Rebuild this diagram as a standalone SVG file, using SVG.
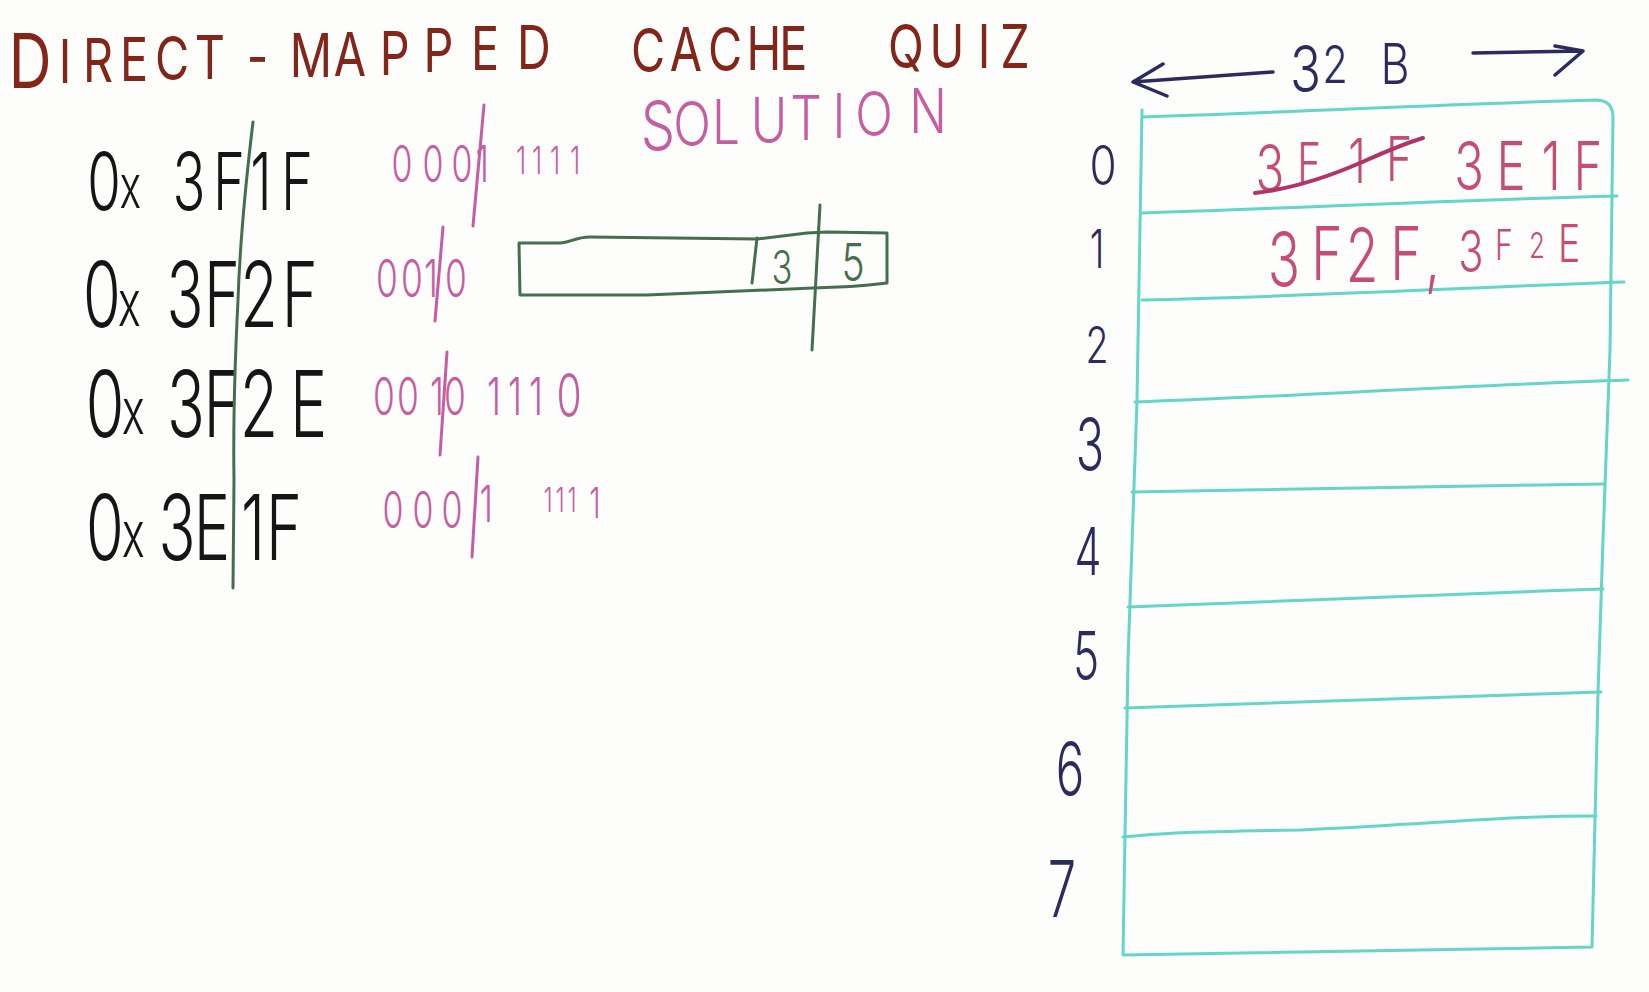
<svg xmlns="http://www.w3.org/2000/svg" width="1649" height="992" viewBox="0 0 1649 992">
<style>
.hw{font-family:Inter,"Open Sans","Liberation Sans",sans-serif;font-weight:300;text-anchor:middle;}
.title{fill:#832619;font-size:60px;font-weight:400;}
.pink{fill:#c65da3;}
.blk{fill:#151515;}
.navy{fill:#2d2b5e;}
.red{fill:#c64c74;}
.grn{fill:#446f4f;}
.ln{fill:none;stroke-linecap:round;stroke-linejoin:round;}
.gl{stroke:#446f4f;stroke-width:3;}
.pl{stroke:#c65da3;stroke-width:3;}
.nl{stroke:#2d2b5e;stroke-width:3.5;}
.cl{stroke:#63d6c6;stroke-width:3;}
</style>
<rect width="1649" height="992" fill="#fdfdfc"/>

<g id="title">
<text class="hw title" transform="scale(0.78,1)"><tspan x="38.5" y="88" font-size="76">D</tspan><tspan x="83.3" y="83">I</tspan><tspan x="125.6" y="82">R</tspan><tspan x="171.8" y="81">E</tspan><tspan x="220.5" y="80">C</tspan><tspan x="269.2" y="79">T</tspan><tspan x="330" y="78">-</tspan><tspan x="398.7" y="77">M</tspan><tspan x="448.7" y="76">A</tspan><tspan x="506" y="75">P</tspan><tspan x="562" y="72">P</tspan><tspan x="622" y="70">E</tspan><tspan x="693" y="69">D</tspan> <tspan x="830.8" y="72">C</tspan><tspan x="879.5" y="71">A</tspan><tspan x="929.5" y="71">C</tspan><tspan x="979.5" y="70">H</tspan><tspan x="1025.6" y="70">E</tspan> <tspan x="1161.5" y="68">Q</tspan><tspan x="1214.1" y="68">U</tspan><tspan x="1261.5" y="68">I</tspan><tspan x="1301.3" y="68">Z</tspan></text>
</g>

<g id="solution">
<text class="hw pink" font-size="62" transform="scale(0.8,1)"><tspan x="822.5" y="150" font-size="68">S</tspan><tspan x="865" y="146">O</tspan><tspan x="907.5" y="144">L</tspan><tspan x="961.3" y="142">U</tspan><tspan x="1007.5" y="140">T</tspan><tspan x="1048.8" y="138">I</tspan><tspan x="1092.5" y="136">O</tspan><tspan x="1160" y="133">N</tspan></text>
</g>

<g id="addresses">
<g id="addr1">
<text class="hw blk" font-size="80" transform="scale(0.68,1)"><tspan x="152.9" y="210">0</tspan><tspan x="202.9" y="208" font-size="60">x</tspan> <tspan x="277.9" y="210">3</tspan><tspan x="336.8" y="210">F</tspan><tspan x="383.8" y="210">1</tspan><tspan x="436.8" y="210">F</tspan></text>
</g>
<g id="addr2">
<text class="hw blk" font-size="90" transform="scale(0.68,1)"><tspan x="150" y="327">0</tspan><tspan x="202.9" y="326" font-size="64">x</tspan> <tspan x="272.1" y="327">3</tspan><tspan x="326.5" y="327">F</tspan><tspan x="380.9" y="327">2</tspan><tspan x="441" y="327">F</tspan></text>
</g>
<g id="addr3">
<text class="hw blk" font-size="92" transform="scale(0.68,1)"><tspan x="154.4" y="437">0</tspan><tspan x="208.8" y="434" font-size="64">x</tspan> <tspan x="273.5" y="437">3</tspan><tspan x="326.5" y="437">F</tspan><tspan x="380.9" y="437">2</tspan><tspan x="454" y="437">E</tspan></text>
</g>
<g id="addr4">
<text class="hw blk" font-size="90" transform="scale(0.68,1)"><tspan x="154.4" y="560">0</tspan><tspan x="208.8" y="557" font-size="64">x</tspan> <tspan x="260.3" y="560">3</tspan><tspan x="311.8" y="560">E</tspan><tspan x="372.1" y="560">1</tspan><tspan x="417.6" y="560">F</tspan></text>
</g>
<path id="split-line" class="ln gl" d="M253,122 C246,180 240,240 238,300 C235,360 233,420 234,480 L233,588"/>
</g>

<g id="binary">
<g id="bin1">
<text class="hw pink" font-size="50" transform="scale(0.68,1)"><tspan x="591.2" y="182">0</tspan><tspan x="636.8" y="182">0</tspan><tspan x="679.4" y="182">0</tspan><tspan x="716.2" y="182">1</tspan> <tspan x="766.2" y="174" font-size="38">1</tspan><tspan x="789.7" y="174" font-size="38">1</tspan><tspan x="816.2" y="174" font-size="38">1</tspan><tspan x="845.6" y="174" font-size="38">1</tspan></text>
<path class="ln pl" d="M484,105 L473,226"/>
</g>
<g id="bin2">
<text class="hw pink" font-size="52" transform="scale(0.68,1)"><tspan x="569.1" y="297">0</tspan><tspan x="605.9" y="297">0</tspan><tspan x="633.8" y="297">1</tspan><tspan x="670.6" y="297">0</tspan></text>
<path class="ln pl" d="M443,227 L435,321"/>
</g>
<g id="bin3">
<text class="hw pink" font-size="52" transform="scale(0.68,1)"><tspan x="564.7" y="415">0</tspan><tspan x="600" y="415">0</tspan><tspan x="642.6" y="415">1</tspan><tspan x="676.5" y="415">0</tspan> <tspan x="726.5" y="415">1</tspan><tspan x="757.4" y="415">1</tspan><tspan x="788.2" y="415">1</tspan><tspan x="836.8" y="417" font-size="60">0</tspan></text>
<path class="ln pl" d="M447,352 L440,455"/>
</g>
<g id="bin4">
<text class="hw pink" font-size="50" transform="scale(0.68,1)"><tspan x="577.9" y="528">0</tspan><tspan x="622.1" y="528">0</tspan><tspan x="664.7" y="528">0</tspan><tspan x="722.1" y="522">1</tspan> <tspan x="805.9" y="512" font-size="34">1</tspan><tspan x="823.5" y="512" font-size="34">1</tspan><tspan x="841.2" y="512" font-size="34">1</tspan><tspan x="875" y="518" font-size="42">1</tspan></text>
<path class="ln pl" d="M478,457 L472,557"/>
</g>
</g>

<g id="address-fields">
<path class="ln gl" d="M519,243 L560,243 C570,243 575,237 590,237 L757,239 L807,233 L827,232 L887,233 L887,283 C870,285 860,287 813,288 L647,295 L520,295 Z"/>
<path class="ln gl" d="M757,238 L752,283"/>
<path class="ln gl" d="M820,205 L812,350"/>
<text class="hw grn" font-size="46" transform="translate(782,284) scale(0.75,1)">3</text>
<text class="hw grn" font-size="52" transform="translate(853,281) scale(0.75,1)">5</text>
</g>

<g id="width-label">
<text class="hw navy" font-weight="400" transform="scale(0.8,1)"><tspan x="1632" y="92" font-size="64">3</tspan><tspan x="1671" y="83" font-size="52">2</tspan> <tspan x="1743.8" y="84" font-size="56">B</tspan></text>
<path class="ln nl" d="M1273,72 L1133,82 M1163,64 L1133,82 L1167,96"/>
<path class="ln nl" d="M1473,53 L1583,51 M1555,46 L1583,51 L1555,75"/>
</g>

<g id="cache">
<path class="ln cl" d="M1142,117 C1300,112 1450,104 1597,100 Q1613,101 1613,117 L1610,350 L1603,540 L1598,693 L1592,947 L1123,955 L1128,660 L1137,400 L1142,110"/>
<path class="ln cl" d="M1142,213 C1300,208 1450,200 1617,196"/>
<path class="ln cl" d="M1142,300 C1300,297 1450,288 1624,282"/>
<path class="ln cl" d="M1135,402 C1300,396 1450,386 1628,380"/>
<path class="ln cl" d="M1132,492 C1300,489 1450,486 1604,484"/>
<path class="ln cl" d="M1128,607 C1300,600 1450,594 1603,589"/>
<path class="ln cl" d="M1125,708 C1300,703 1450,696 1601,692"/>
<path class="ln cl" d="M1123,837 C1160,833 1180,832 1300,830 C1450,823 1500,816 1596,816"/>
</g>

<g id="row-labels">
<text class="hw navy" font-size="55" transform="translate(1103,185) scale(0.8,1)">0</text>
<text class="hw navy" font-size="53" transform="translate(1097,268) scale(0.7,1)">1</text>
<text class="hw navy" font-size="50" transform="translate(1097,363) scale(0.75,1)">2</text>
<text class="hw navy" font-size="72" transform="translate(1090,470) scale(0.65,1)">3</text>
<text class="hw navy" font-size="66" transform="translate(1088,575) scale(0.65,1)">4</text>
<text class="hw navy" font-size="68" transform="translate(1086,680) scale(0.65,1)">5</text>
<text class="hw navy" font-size="73" transform="translate(1070,795) scale(0.65,1)">6</text>
<text class="hw navy" font-size="78" transform="translate(1062,917) scale(0.65,1)">7</text>
</g>

<g id="cache-contents">
<g id="row0">
<text class="hw red" font-size="62" transform="scale(0.72,1)"><tspan x="1763.9" y="192" font-size="66">3</tspan><tspan x="1818.1" y="183" font-size="56">F</tspan><tspan x="1884.7" y="183">1</tspan><tspan x="1943.1" y="181">F</tspan></text>
<path class="ln" stroke="#b23467" stroke-width="4" d="M1255,193 C1290,189 1330,176 1360,163 C1385,152 1405,143 1423,138"/>
<text class="hw red" font-size="68" transform="scale(0.72,1)"><tspan x="2040.3" y="190">3</tspan><tspan x="2098.6" y="190">E</tspan><tspan x="2154.2" y="190">1</tspan><tspan x="2205.6" y="190">F</tspan></text>
</g>
<g id="row1">
<text class="hw red" font-size="74" transform="scale(0.72,1)"><tspan x="1783.3" y="286">3</tspan><tspan x="1843.1" y="280">F</tspan><tspan x="1891.7" y="282">2</tspan><tspan x="1952.8" y="280">F</tspan><tspan x="2000" y="282">,</tspan> <tspan x="2043.1" y="272" font-size="58">3</tspan><tspan x="2088.9" y="260" font-size="42">F</tspan><tspan x="2134.7" y="258" font-size="36">2</tspan><tspan x="2179.2" y="262" font-size="52">E</tspan></text>
</g>
</g>
</svg>
